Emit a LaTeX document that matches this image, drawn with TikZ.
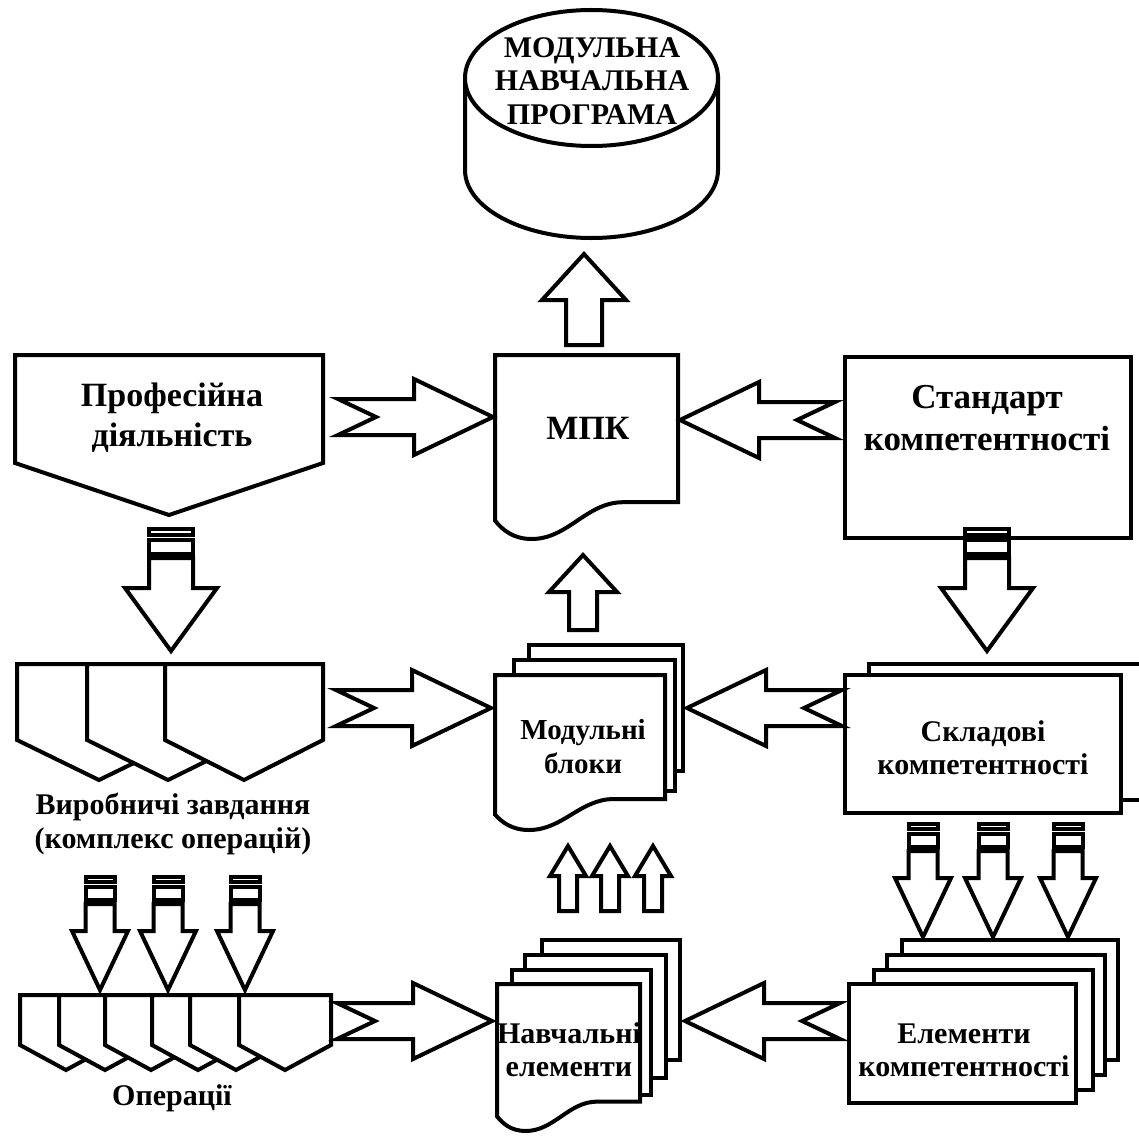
\documentclass[tikz,border=0pt]{standalone}
\usepackage{fontspec}
\setmainfont{Liberation Serif}
\begin{document}
\begin{tikzpicture}[x=1pt,y=-1pt]
\tikzset{
  blk/.style={draw=black, fill=white, line width=4pt, line join=miter, miter limit=10},
  lbl/.style={align=center, inner sep=0pt},
  pics/notched/.style={code={\path[blk] (0,0) -- (-79,-38) -- (-79,-18) -- (-155,-18) -- (-117,0) -- (-155,18) -- (-79,18) -- (-79,38) -- cycle;}},
  pics/bigstriped/.style={code={
    \path[blk] (-22,-122) rectangle (22,-116);
    \path[blk] (-22,-111) rectangle (22,-97);
    \path[blk] (0,0) -- (-46,-63) -- (-22,-63) -- (-22,-93) -- (22,-93) -- (22,-63) -- (46,-63) -- cycle;}},
  pics/smallstriped/.style={code={
    \path[blk] (-14.5,-113) rectangle (14.5,-108);
    \path[blk] (-14.5,-103) rectangle (14.5,-90);
    \path[blk] (0,0) -- (-28,-59) -- (-14.5,-59) -- (-14.5,-86) -- (14.5,-86) -- (14.5,-59) -- (28,-59) -- cycle;}},
  pics/uparrow/.style n args={4}{code={\path[blk] (0,0) -- (#1,#2) -- (#3,#2) -- (#3,#4) -- (-#3,#4) -- (-#3,#2) -- (-#1,#2) -- cycle;}},
  pics/pent/.style n args={3}{code={\path[blk] (0,0) -- (#1,0) -- (#1,#2) -- ({#1/2},{#2+#3}) -- (0,#2) -- cycle;}},
  pics/doc/.style n args={2}{code={\path[blk] (0,0) -- (#1,0) -- (#1,{0.8*#2}) -- ({0.7*#1},{0.8*#2})
      .. controls ({0.5*#1},{0.8*#2}) and ({0.4*#1},#2) .. ({0.2*#1},#2)
      .. controls ({0.1*#1},#2) and ({0.04*#1},{0.95*#2}) .. (0,{0.9*#2}) -- cycle;}},
}
\useasboundingbox (0,0) rectangle (1139,1137);
\clip (0,0) rectangle (1139,1137);

% ---- cylinder
\path[blk] (465,78) -- (465,170) arc[start angle=180, end angle=360, x radius=126.5pt, y radius=68pt] -- (718,78) -- cycle;
\path[blk] (591.5,78) ellipse[x radius=126.5pt, y radius=68pt];

% ---- MPK document
\pic at (495,355) {doc={183}{184}};
% up arrow MPK -> programme
\pic at (584,254) {uparrow={42}{46}{18}{91}};

% ---- left pentagon
\pic at (15,355) {pent={308}{108}{52}};
% ---- Standard rect
\path[blk] (845,357) rectangle (1131,538);

% ---- top row notched arrows
\coordinate (mpkW) at (493,417);
\coordinate (mpkE) at (680,420);
\pic at (mpkW) {notched};
\pic[xscale=-1] at (mpkE) {notched};

% ---- big striped arrows
\pic at (171,651) {bigstriped};
\pic at (987,651) {bigstriped};

% ---- production tasks pentagons
\pic at (17,664) {pent={164}{76}{40}};
\pic at (87,664) {pent={162}{76}{40}};
\pic at (165,664) {pent={158}{76}{40}};

% ---- module blocks documents
\path[blk] (529,645) rectangle (683,771);
\path[blk] (514,660) rectangle (675,791);
\pic at (495,675) {doc={170}{155}};
\pic at (583,555) {uparrow={34}{37}{14}{75}};

% ---- component rects
\path[blk] (869,664) rectangle (1160,800);
\path[blk] (845,675) rectangle (1121,813);

% middle row arrows
\pic at (491,708) {notched};
\pic[xscale=-1] at (687,708) {notched};

% ---- three small up arrows
\pic at (568,846) {uparrow={18}{30}{9}{65}};
\pic at (610,846) {uparrow={18}{30}{9}{65}};
\pic at (653,846) {uparrow={18}{30}{9}{65}};

% ---- small striped arrows
\pic at (100,990) {smallstriped};
\pic at (168,990) {smallstriped};
\pic at (245,990) {smallstriped};
\pic at (923,937) {smallstriped};
\pic at (993,937) {smallstriped};
\pic at (1068,937) {smallstriped};

% ---- operations pentagons
\foreach \xx in {20,59,105,152,190,239} {
  \pic at (\xx,995) {pent={92}{50}{25}};
}

% ---- learning elements documents
\path[blk] (542,940) rectangle (680,1060);
\path[blk] (525,955) rectangle (666,1078);
\path[blk] (512,970) rectangle (651,1095);
\pic at (497,984) {doc={143}{147}};

% ---- competence element rects
\path[blk] (902,940) rectangle (1118,1060);
\path[blk] (887,955) rectangle (1105,1075);
\path[blk] (874,970) rectangle (1093,1090);
\path[blk] (849,984) rectangle (1076,1103);

% bottom row arrows
\pic at (492,1021) {notched};
\pic[xscale=-1] at (685,1021) {notched};

% ---- labels
\node[lbl, font=\fontsize{30}{33.5}\selectfont\bfseries] (prog) at (592,81) {МОДУЛЬНА\\НАВЧАЛЬНА\\ПРОГРАМА};
\node[lbl, font=\fontsize{34}{40}\selectfont\bfseries] (prof) at (172,418) {Професійна\\діяльність};
\node[lbl, font=\fontsize{34}{40}\selectfont\bfseries] (mpk) at (588,428) {МПК};
\node[lbl, font=\fontsize{35}{42}\selectfont\bfseries] (std) at (987,418) {Стандарт\\компетентності};
\node[lbl, font=\fontsize{29}{34}\selectfont\bfseries] (mod) at (583,747) {Модульні\\блоки};
\node[lbl, font=\fontsize{30}{33}\selectfont\bfseries] (skl) at (983,748) {Складові\\компетентності};
\node[lbl, font=\fontsize{30}{34}\selectfont\bfseries] (vyr) at (173,824) {Виробничі завдання\\(комплекс операцій)};
\node[lbl, font=\fontsize{30}{34}\selectfont\bfseries] (oper) at (172,1098) {Операції};
\node[lbl, font=\fontsize{30}{33}\selectfont\bfseries] (navch) at (569,1050) {Навчальні\\елементи};
\node[lbl, font=\fontsize{30}{33}\selectfont\bfseries] (elem) at (964,1050) {Елементи\\компетентності};
\end{tikzpicture}
\end{document}
